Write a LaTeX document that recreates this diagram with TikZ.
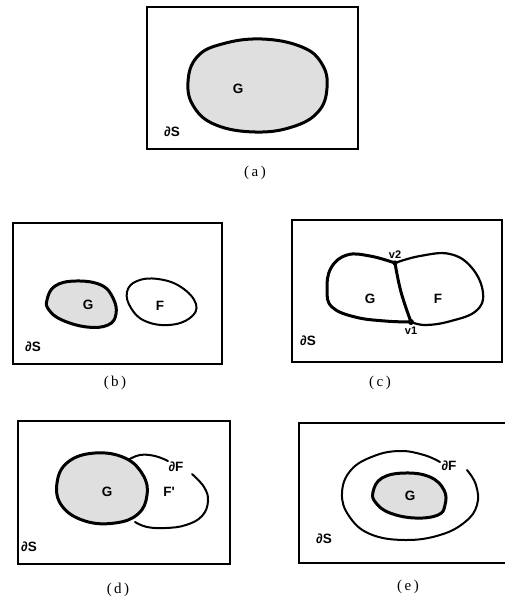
\documentclass[tikz,border=0pt]{standalone}
\usepackage{fontspec}
\setmainfont{Liberation Serif}
\newfontfamily\labfont{Liberation Sans}
\begin{document}
\begin{tikzpicture}[x=1pt,y=-1pt,
  frame/.style={draw=black, line width=1.5pt},
  gcurve/.style={draw=black, line width=3pt, fill=gray!25, line join=round},
  fcurve/.style={draw=black, line width=2pt, line cap=round},
  lab/.style={font=\labfont\bfseries\fontsize{13.5}{13.5}\selectfont, inner sep=0pt},
  vlab/.style={font=\labfont\bfseries\fontsize{11}{11}\selectfont, inner sep=0pt},
  captext/.style={font=\fontsize{15}{15}\selectfont, inner sep=0pt}]
\useasboundingbox (0,0) rectangle (504,599);

% ---------- (a)
\draw[frame] (147,7) rectangle (358,149);
\draw[gcurve] plot[smooth cycle, tension=0.7] coordinates {(188,82) (197,57) (222,44) (262,39) (302,47) (322,64) (327,88) (318,112) (292,127) (255,132) (216,125) (194,107)};
\node[lab] (Ga) at (238,89) {G};
\node[lab] (Sa) at (172,132) {∂S};
\node[captext] (ca) at (255,173) {(\,a\,)};

% ---------- (b)
\draw[frame] (13,223) rectangle (222,364);
\draw[gcurve] plot[smooth cycle, tension=0.7] coordinates {(47,300) (55,286) (76,281) (101,285) (113,298) (116,314) (108,325) (87,327) (62,320) (49,310)};
\draw[fcurve] plot[smooth cycle, tension=0.7] coordinates {(127,292) (137,281) (158,279) (181,287) (196,304) (190,318) (169,325) (145,321) (131,308)};
\node[lab] (Gb) at (88,305) {G};
\node[lab] (Fb) at (160,306) {F};
\node[lab] (Sb) at (33,347) {∂S};
\node[captext] (cb) at (115,383) {(\,b\,)};

% ---------- (c)
\draw[frame] (292,220) rectangle (502,362);
\coordinate (v2) at (395,263);
\coordinate (v1) at (411,322);
\draw[line width=3pt, line join=round] plot[smooth, tension=0.7] coordinates {(395,263) (370,256) (347,255) (331,268) (327,290) (332,307) (355,317) (385,321) (411,322)};
\draw[line width=3pt] plot[smooth, tension=0.7] coordinates {(395,263) (401,292) (411,322)};
\draw[line width=2.2pt] plot[smooth, tension=0.7] coordinates {(395,263) (420,256) (450,254) (472,268) (483,293) (476,311) (451,321) (426,325) (411,322)};
\fill (v2) circle (2.6pt);
\fill (v1) circle (3pt);
\node[vlab, above=4pt] (l2) at (v2) {v2};
\node[vlab, below=5pt] (l1) at (v1) {v1};
\node[lab] (Gc) at (370,299) {G};
\node[lab] (Fc) at (438,299) {F};
\node[lab] (Sc) at (308,341) {∂S};
\node[captext] (cc) at (380,383) {(\,c\,)};

% ---------- (d)
\draw[frame] (18,421) rectangle (230,564);
\draw[gcurve] plot[smooth cycle, tension=0.7] coordinates {(57,483) (68,462) (95,453) (125,458) (143,475) (147,495) (138,514) (115,523) (85,521) (62,506)};
\draw[fcurve] plot[smooth, tension=0.7] coordinates {(128,460) (140,455) (155,456) (168,461)};
\draw[fcurve] plot[smooth, tension=0.7] coordinates {(192,474) (204,487) (208,501) (202,516) (186,525) (166,528) (147,527) (135,522)};
\node[lab] (Gd) at (107,492) {G};
\node[lab] (Fd) at (169,492) {F'};
\node[lab] (dFd) at (176,467) {∂F};
\node[lab] (Sd) at (29,547) {∂S};
\node[captext] (cd) at (118,590) {(\,d\,)};

% ---------- (e)
\draw[frame] (510,423) -- (299,423) -- (299,563) -- (510,563);
\draw[fcurve] plot[smooth, tension=0.7] coordinates {(467,470) (476,485) (477,505) (465,522) (440,535) (405,540) (370,534) (349,516) (342,493) (351,470) (374,456) (400,451) (424,455) (440,462)};
\draw[gcurve] plot[smooth cycle, tension=0.7] coordinates {(373,492) (382,478) (405,473) (430,477) (444,490) (445,505) (438,515) (415,518) (390,513) (376,503)};
\node[lab] (Ge) at (410,496) {G};
\node[lab] (dFe) at (449,466) {∂F};
\node[lab] (Se) at (324,539) {∂S};
\node[captext] (ce) at (408,587) {(\,e\,)};
\end{tikzpicture}
\end{document}
